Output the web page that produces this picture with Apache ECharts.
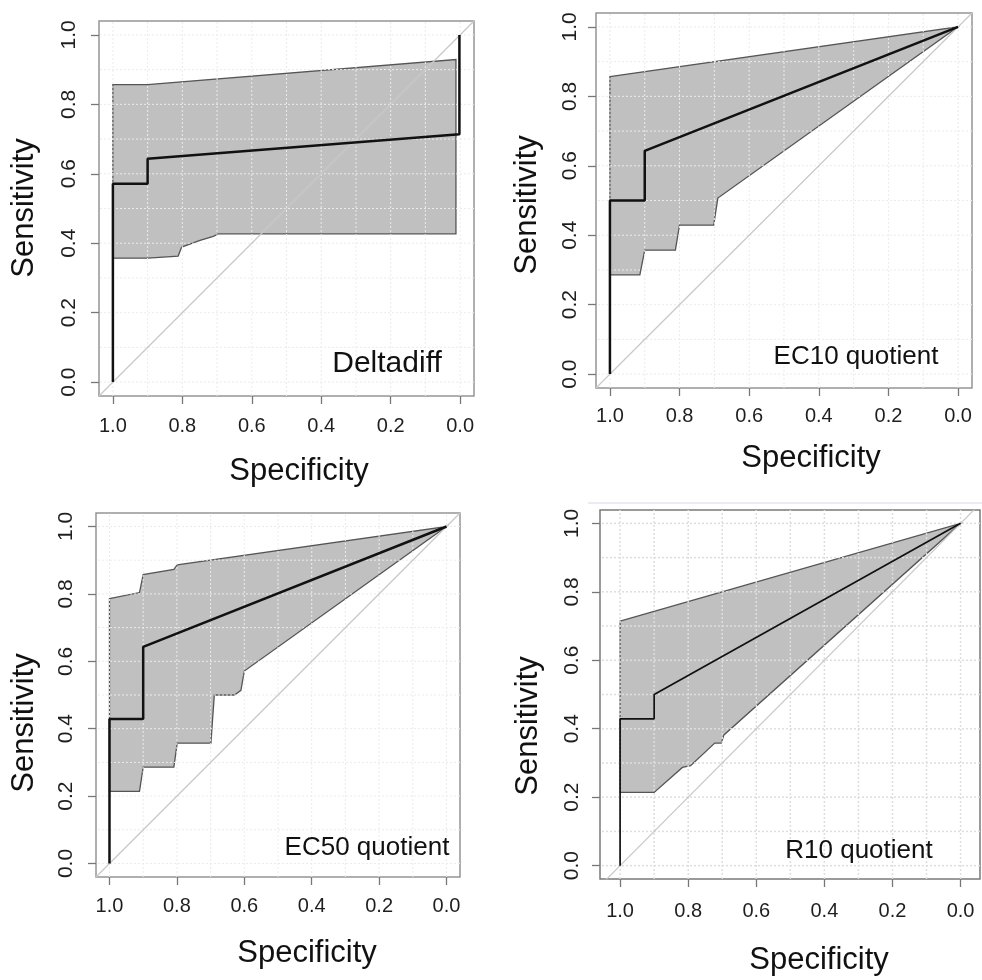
<!DOCTYPE html>
<html>
<head>
<meta charset="utf-8">
<script src="https://cdn.jsdelivr.net/npm/echarts@6/dist/echarts.min.js"></script>
<style>
html,body{margin:0;padding:0;background:#fff;}
#chart{width:982px;height:980px;}
</style>
</head>
<body>
<div id="chart"></div>
<script>
// ---- tick labels / grid values ----
const tickValues = [0, 0.2, 0.4, 0.6, 0.8, 1.0];
const gridValues = [0, 0.1, 0.2, 0.3, 0.4, 0.5, 0.6, 0.7, 0.8, 0.9, 1.0];
const xTitle = 'Specificity';
const yTitle = 'Sensitivity';

// ---- panel names ----
const panelNames = ['Deltadiff', 'EC10 quotient', 'EC50 quotient', 'R10 quotient'];

// ---- Deltadiff: [specificity, sensitivity] ----
const deltadiffRoc = [[1, 0], [1, 0.571], [0.9, 0.571], [0.9, 0.643], [0.002, 0.714], [0.002, 1]];
const deltadiffUpper = [[1, 0.857], [0.9, 0.857], [0.012, 0.929]];
const deltadiffLower = [[1, 0.357], [0.9, 0.357], [0.812, 0.363], [0.802, 0.389], [0.749, 0.408], [0.711, 0.420], [0.696, 0.427], [0.012, 0.427]];

// ---- EC10 quotient ----
const ec10Roc = [[1, 0], [1, 0.5], [0.9, 0.5], [0.9, 0.643], [0, 1]];
const ec10Upper = [[1, 0.857], [0, 1]];
const ec10Lower = [[1, 0.286], [0.914, 0.286], [0.9, 0.357], [0.812, 0.357], [0.8, 0.429], [0.702, 0.429], [0.69, 0.507], [0, 1]];

// ---- EC50 quotient ----
const ec50Roc = [[1, 0], [1, 0.429], [0.9, 0.429], [0.9, 0.643], [0, 1]];
const ec50Upper = [[1, 0.786], [0.911, 0.804], [0.9, 0.857], [0.809, 0.873], [0.799, 0.886], [0, 1]];
const ec50Lower = [[1, 0.214], [0.911, 0.214], [0.9, 0.286], [0.809, 0.286], [0.799, 0.357], [0.699, 0.357], [0.689, 0.5], [0.629, 0.5], [0.61, 0.514], [0.6, 0.571], [0, 1]];

// ---- R10 quotient ----
const r10Roc = [[1, 0], [1, 0.429], [0.9, 0.429], [0.9, 0.5], [0, 1]];
const r10Upper = [[1, 0.714], [0, 1]];
const r10Lower = [[1, 0.214], [0.9, 0.214], [0.817, 0.287], [0.793, 0.292], [0.722, 0.358], [0.703, 0.358], [0.695, 0.382], [0, 1]];

// ---- layout (pixels) ----
const panels = [
  {name: panelNames[0], roc: deltadiffRoc, upper: deltadiffUpper, lower: deltadiffLower, rocWidth: 2.5,
   grid: {left: 99, top: 21, width: 375, height: 375}, xr: [-0.04, 1.04], yr: [-0.04, 1.04],
   xMargin: 20, yMargin: 19, label: [387, 364], labelSize: 30,
   xT: [299, 471], yT: [24, 208]},
  {name: panelNames[1], roc: ec10Roc, upper: ec10Upper, lower: ec10Lower, rocWidth: 2.5,
   grid: {left: 596, top: 13, width: 376, height: 375}, xr: [-0.04, 1.04], yr: [-0.04, 1.04],
   xMargin: 18, yMargin: 15, label: [856, 357], labelSize: 26,
   xT: [811, 458], yT: [527, 205]},
  {name: panelNames[2], roc: ec50Roc, upper: ec50Upper, lower: ec50Lower, rocWidth: 2.5,
   grid: {left: 96, top: 513, width: 364, height: 364}, xr: [-0.04, 1.04], yr: [-0.04, 1.04],
   xMargin: 19, yMargin: 19, label: [367, 848], labelSize: 26,
   xT: [307, 953], yT: [24, 723]},
  {name: panelNames[3], roc: r10Roc, upper: r10Upper, lower: r10Lower, rocWidth: 1.7,
   grid: {left: 600, top: 510, width: 380, height: 369}, xr: [-0.057, 1.059], yr: [-0.039, 1.039],
   xMargin: 22, yMargin: 17, label: [859, 851], labelSize: 26,
   xT: [819, 960], yT: [528, 726]}
];

const FONT = '"Liberation Sans", Arial, sans-serif';
const TEXT = '#1e1e1e';

const option = {
  animation: false,
  backgroundColor: '#ffffff',
  grid: [], xAxis: [], yAxis: [], series: [], graphic: []
};

panels.forEach((p, i) => {
  option.grid.push(Object.assign({show: true, borderColor: i === 3 ? '#7a7a7a' : '#959595', borderWidth: 1.5, backgroundColor: 'transparent'}, p.grid));
  option.xAxis.push({
    type: 'value', gridIndex: i, min: p.xr[0], max: p.xr[1], inverse: true, position: 'bottom',
    splitLine: {show: false}, axisLine: {show: false, onZero: false},
    axisTick: {show: true, length: 8, customValues: tickValues, lineStyle: {color: '#777', width: 1.3}},
    axisLabel: {customValues: tickValues, formatter: v => v.toFixed(1), fontSize: 20, color: TEXT, fontFamily: FONT, margin: p.xMargin}
  });
  option.yAxis.push({
    type: 'value', gridIndex: i, min: p.yr[0], max: p.yr[1], position: 'left',
    splitLine: {show: false}, axisLine: {show: false, onZero: false},
    axisTick: {show: true, length: 8, customValues: tickValues, lineStyle: {color: '#777', width: 1.3}},
    axisLabel: {customValues: tickValues, formatter: v => v.toFixed(1), fontSize: 21, color: TEXT, fontFamily: FONT, rotate: 90, margin: p.yMargin}
  });
  const band = p.upper.concat(p.lower.slice().reverse());
  option.series.push({
    type: 'custom', xAxisIndex: i, yAxisIndex: i, z: 1, clip: true, silent: true,
    data: band,
    renderItem: (params, api) => {
      if (params.dataIndex !== 0) return null;
      return {type: 'polygon', shape: {points: band.map(pt => api.coord(pt))},
              style: {fill: '#c0c0c0', stroke: '#555', lineWidth: 1.3}};
    }
  });
  option.series.push({
    type: 'custom', xAxisIndex: i, yAxisIndex: i, z: 2, clip: true, silent: true,
    data: gridValues,
    renderItem: (params, api) => {
      const v = gridValues[params.dataIndex];
      const a = api.coord([v, p.yr[0]]), b = api.coord([v, p.yr[1]]);
      const c = api.coord([p.xr[0], v]), d = api.coord([p.xr[1], v]);
      const st = {stroke: i === 3 ? '#dedede' : '#ebebeb', lineWidth: i === 3 ? 1.5 : 1, lineDash: [2, 2]};
      return {type: 'group', children: [
        {type: 'line', shape: {x1: a[0], y1: a[1], x2: b[0], y2: b[1]}, style: st},
        {type: 'line', shape: {x1: c[0], y1: c[1], x2: d[0], y2: d[1]}, style: st}
      ]};
    }
  });
  option.series.push({
    type: 'line', xAxisIndex: i, yAxisIndex: i, z: 3, silent: true, showSymbol: false,
    data: [[p.xr[1], 1 - p.xr[1]], [p.xr[0], 1 - p.xr[0]]],
    lineStyle: {color: '#c8c8c8', width: 1.2}
  });
  option.series.push({
    type: 'line', xAxisIndex: i, yAxisIndex: i, z: 4, silent: true, showSymbol: false,
    data: p.roc, lineStyle: {color: '#111', width: p.rocWidth}
  });
  option.graphic.push({type: 'text', x: p.label[0], y: p.label[1], z: 10,
    style: {text: p.name, font: p.labelSize + 'px ' + FONT, fill: '#111', align: 'center', verticalAlign: 'middle'}});
  option.graphic.push({type: 'text', x: p.xT[0], y: p.xT[1], z: 10,
    style: {text: xTitle, font: '31px ' + FONT, fill: '#111', align: 'center', verticalAlign: 'middle'}});
  option.graphic.push({type: 'text', x: p.yT[0], y: p.yT[1], rotation: Math.PI / 2, z: 10,
    style: {text: yTitle, font: '31px ' + FONT, fill: '#111', align: 'center', verticalAlign: 'middle'}});
});

// faint separator line above the bottom-right panel
option.graphic.push({type: 'line', z: 0, shape: {x1: 588, y1: 503, x2: 982, y2: 503},
  style: {stroke: '#d4dae2', lineWidth: 1.2}});

const chart = echarts.init(document.getElementById('chart'), null, {renderer: 'canvas'});
chart.setOption(option);
</script>
</body>
</html>
